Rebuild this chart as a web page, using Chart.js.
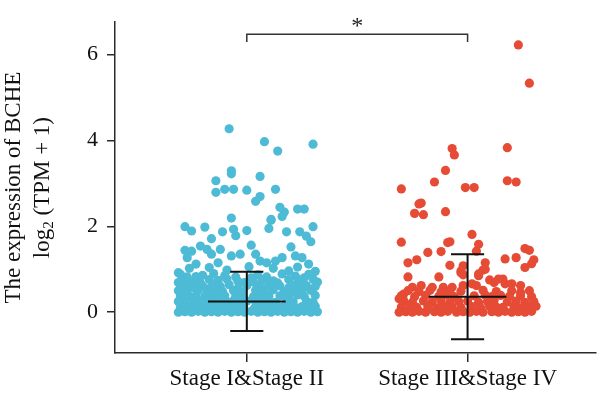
<!DOCTYPE html>
<html>
<head>
<meta charset="utf-8">
<script src="https://cdn.jsdelivr.net/npm/chart.js@4.4.0/dist/chart.umd.min.js"></script>
<style>
    html, body { margin: 0; padding: 0; background: #fff; }
    canvas { display: block; }
</style>
</head>
<body>
<canvas id="bcheChart" width="600" height="397"></canvas>
<script>
// Chart data
const categories = ['Stage I&Stage II', 'Stage III&Stage IV'];
const groupColors = ['#4DBBD5', '#E64B35'];
const yTickValues = [0, 2, 4, 6];
const meanValues = [0.25, 0.36];
const sdValues = [0.69, 0.99];
const signifLabel = '*';

// [jitter offset, log2(TPM + 1)]
const stage12Points = [
    [-0.08, 4.27], [0.08, 3.97], [0.14, 3.75], [0.30, 3.91],
    [-0.07, 3.29], [-0.07, 3.22], [-0.14, 3.06], [0.06, 3.16],
    [-0.14, 2.79], [-0.10, 2.86], [-0.06, 2.86], [0.00, 2.84], [0.13, 2.86],
    [0.04, 2.58], [0.06, 2.69], [0.15, 2.44], [0.17, 2.33], [0.16, 2.23], [0.23, 2.40], [0.26, 2.40],
    [-0.07, 2.19], [0.11, 2.16],
    [-0.28, 1.99], [-0.25, 1.89], [-0.19, 1.98], [-0.16, 1.71], [-0.11, 1.87], [-0.06, 1.93], [-0.05, 1.78], [0.00, 1.90],
    [0.11, 2.14], [0.10, 1.95], [0.18, 1.87], [0.24, 1.87], [0.27, 1.77], [0.29, 1.64], [0.30, 1.99],
    [0.02, 1.56], [0.20, 1.52],
    [-0.28, 1.44], [-0.25, 1.42], [-0.27, 1.27],
    [-0.21, 1.54], [-0.18, 1.46], [-0.16, 1.35], [-0.12, 1.46],
    [-0.07, 1.31], [-0.03, 1.35], [0.04, 1.35], [0.06, 1.19], [0.09, 1.15],
    [0.13, 1.19], [0.16, 1.27], [0.22, 1.31], [0.25, 1.27], [0.28, 1.12],
    [-0.23, 1.12], [-0.17, 1.04], [-0.13, 1.15], [0.19, 0.96], [-0.29, 0.77],
    [-0.26, 1.02], [-0.09, 0.98], [0.01, 1.06], [0.12, 1.02], [0.23, 1.05], [0.31, 0.95], [-0.31, 0.92],
    // dense part near zero
    [-0.30, 0.88], [-0.20, 0.86], [-0.15, 0.90], [-0.10, 0.85], [0.05, 0.87], [0.16, 0.89], [0.22, 0.84], [0.28, 0.88],
    [-0.27, 0.82], [-0.23, 0.83], [0.02, 0.80], [0.09, 0.82], [0.26, 0.80], [-0.05, 0.82],
    [-0.29, 0.75], [-0.24, 0.73], [-0.17, 0.76], [-0.13, 0.74], [-0.09, 0.77], [-0.04, 0.72], [0.07, 0.75], [0.12, 0.73], [0.19, 0.76], [0.24, 0.74], [0.30, 0.77],
    [-0.31, 0.69], [-0.21, 0.68], [-0.01, 0.69], [0.03, 0.70], [0.14, 0.68], [0.32, 0.70],
    [-0.30, 0.62], [-0.26, 0.64], [-0.20, 0.61], [-0.15, 0.63], [-0.12, 0.60], [-0.08, 0.64], [0.00, 0.62], [0.05, 0.60], [0.10, 0.63], [0.15, 0.61], [0.22, 0.64], [0.27, 0.62], [0.31, 0.60],
    [-0.28, 0.56], [-0.24, 0.57], [-0.17, 0.55], [-0.04, 0.56], [0.07, 0.55], [0.19, 0.57], [0.24, 0.55],
    [-0.31, 0.50], [-0.27, 0.48], [-0.22, 0.51], [-0.18, 0.49], [-0.14, 0.52], [-0.11, 0.48], [-0.06, 0.50], [-0.02, 0.47], [0.04, 0.51], [0.08, 0.49], [0.12, 0.52], [0.17, 0.48], [0.21, 0.50], [0.25, 0.47], [0.29, 0.51],
    [-0.30, 0.38], [-0.26, 0.36], [-0.23, 0.39], [-0.19, 0.37], [-0.16, 0.40], [-0.13, 0.36], [-0.10, 0.38], [-0.05, 0.37], [-0.02, 0.40], [0.03, 0.36], [0.06, 0.39], [0.10, 0.37], [0.15, 0.38], [0.19, 0.36], [0.23, 0.40], [0.26, 0.37], [0.31, 0.39],
    [-0.31, 0.25], [-0.28, 0.27], [-0.24, 0.24], [-0.21, 0.26], [-0.18, 0.23], [-0.15, 0.27], [-0.12, 0.25], [-0.09, 0.24], [-0.06, 0.27], [-0.03, 0.23], [0.00, 0.26], [0.04, 0.24], [0.07, 0.27], [0.10, 0.25], [0.13, 0.23], [0.18, 0.26], [0.21, 0.24], [0.27, 0.26], [0.30, 0.23],
    [-0.30, 0.12], [-0.27, 0.14], [-0.235, 0.11], [-0.20, 0.13], [-0.17, 0.10], [-0.14, 0.15], [-0.11, 0.12], [-0.08, 0.11], [-0.045, 0.14], [-0.015, 0.12], [0.035, 0.10], [0.065, 0.13], [0.095, 0.15], [0.125, 0.11], [0.16, 0.12], [0.19, 0.14], [0.22, 0.10], [0.25, 0.13], [0.28, 0.12], [0.31, 0.14],
    [-0.31, 0.00], [-0.28, 0.01], [-0.25, 0.00], [-0.22, 0.02], [-0.19, 0.00], [-0.16, 0.01], [-0.13, 0.00], [-0.10, 0.02], [-0.07, 0.00], [-0.04, 0.01], [-0.01, 0.00],
    [0.02, 0.02], [0.05, 0.00], [0.08, 0.01], [0.11, 0.00], [0.14, 0.02], [0.17, 0.00], [0.20, 0.01], [0.23, 0.00], [0.26, 0.02], [0.29, 0.00], [0.32, 0.01]
];

const stage34Points = [
    [0.23, 6.22], [0.28, 5.33],
    [-0.07, 3.81], [-0.06, 3.66], [0.18, 3.83], [-0.10, 3.30], [-0.15, 3.03], [-0.30, 2.87],
    [-0.01, 2.90], [0.03, 2.90], [0.18, 3.06], [0.22, 3.03],
    [-0.21, 2.54], [-0.22, 2.52], [-0.24, 2.30], [-0.20, 2.27], [-0.10, 2.34],
    [0.02, 1.81], [-0.30, 1.63], [-0.09, 1.62], [-0.08, 1.64], [0.05, 1.58], [0.04, 1.42],
    [-0.18, 1.39], [-0.12, 1.41], [-0.27, 1.15], [-0.23, 1.22],
    [0.26, 1.48], [0.28, 1.44], [0.17, 1.24], [0.22, 1.27], [0.30, 1.22], [0.29, 1.13], [0.26, 1.04],
    [-0.08, 1.09], [-0.02, 1.08], [0.08, 1.15], [0.07, 0.98], [-0.03, 0.92], [0.08, 1.00], [0.05, 0.85],
    [-0.27, 0.82], [-0.13, 0.82], [0.05, 0.89],
    [-0.21, 0.62], [-0.25, 0.58], [0.12, 0.69], [0.16, 0.77], [0.17, 0.66], [0.24, 0.62], [0.28, 0.50],
    [-0.02, 0.62], [0.10, 0.75], [0.14, 0.77], [-0.16, 0.58], [-0.11, 0.58], [-0.07, 0.58], [-0.29, 0.42],
    [-0.03, 0.96], [-0.02, 0.87], [0.02, 0.66], [0.04, 0.62], [0.20, 0.66], [-0.29, 0.27], [-0.31, 0.31],
    // dense part near zero
    [-0.27, 0.50], [-0.22, 0.48], [-0.17, 0.51], [-0.12, 0.47], [-0.08, 0.50], [-0.03, 0.49], [0.07, 0.51], [0.13, 0.48], [0.20, 0.50], [0.24, 0.46],
    [-0.30, 0.38], [-0.24, 0.36], [-0.19, 0.39], [-0.13, 0.37], [-0.10, 0.40], [-0.06, 0.36], [0.03, 0.38], [0.08, 0.40], [0.11, 0.36], [0.15, 0.39], [0.19, 0.37], [0.24, 0.38], [0.29, 0.36],
    [-0.29, 0.25], [-0.25, 0.23], [-0.20, 0.26], [-0.16, 0.24], [-0.12, 0.27], [-0.08, 0.23], [-0.04, 0.25], [0.00, 0.26], [0.05, 0.23], [0.09, 0.25], [0.12, 0.27], [0.18, 0.24], [0.22, 0.26], [0.26, 0.23], [0.30, 0.25],
    [-0.30, 0.12], [-0.26, 0.14], [-0.23, 0.11], [-0.18, 0.13], [-0.14, 0.10], [-0.11, 0.14], [-0.07, 0.12], [-0.03, 0.11], [0.02, 0.13], [0.06, 0.10], [0.10, 0.14], [0.13, 0.12], [0.16, 0.11], [0.21, 0.13], [0.24, 0.10], [0.28, 0.12], [0.31, 0.14],
    [-0.31, 0.00], [-0.28, 0.01], [-0.25, 0.00], [-0.22, 0.02], [-0.19, 0.00], [-0.15, 0.01], [-0.12, 0.00], [-0.09, 0.02], [-0.05, 0.00], [-0.02, 0.01],
    [0.01, 0.00], [0.04, 0.02], [0.07, 0.00], [0.11, 0.01], [0.14, 0.00], [0.17, 0.02], [0.20, 0.00], [0.23, 0.01], [0.26, 0.00], [0.29, 0.02]
];

const AXIS_COLOR = '#2b2b2b';
const SERIF = '"Liberation Serif", "DejaVu Serif", serif';

// error bars (mean +/- sd) on top of the points
const errorBarPlugin = {
    id: 'errorBars',
    afterDatasetsDraw(chart) {
        const { ctx, scales: { x, y } } = chart;
        ctx.save();
        ctx.strokeStyle = '#111';
        ctx.lineWidth = 2;
        meanValues.forEach((m, i) => {
            const cx = i + 1;
            const sd = sdValues[i];
            ctx.beginPath();
            // vertical
            ctx.moveTo(x.getPixelForValue(cx), y.getPixelForValue(m + sd));
            ctx.lineTo(x.getPixelForValue(cx), y.getPixelForValue(m - sd));
            // mean
            ctx.moveTo(x.getPixelForValue(cx - 0.176), y.getPixelForValue(m));
            ctx.lineTo(x.getPixelForValue(cx + 0.176), y.getPixelForValue(m));
            // caps
            ctx.moveTo(x.getPixelForValue(cx - 0.075), y.getPixelForValue(m + sd));
            ctx.lineTo(x.getPixelForValue(cx + 0.075), y.getPixelForValue(m + sd));
            ctx.moveTo(x.getPixelForValue(cx - 0.075), y.getPixelForValue(m - sd));
            ctx.lineTo(x.getPixelForValue(cx + 0.075), y.getPixelForValue(m - sd));
            ctx.stroke();
        });
        ctx.restore();
    }
};

// significance bracket + y axis title
const annotationPlugin = {
    id: 'annotations',
    afterDraw(chart) {
        const { ctx, chartArea, scales: { x, y } } = chart;
        ctx.save();
        const x1 = x.getPixelForValue(1);
        const x2 = x.getPixelForValue(2);
        const yb = y.getPixelForValue(6.47);
        const yt = y.getPixelForValue(6.29);
        ctx.strokeStyle = '#333';
        ctx.lineWidth = 1.5;
        ctx.beginPath();
        ctx.moveTo(x1, yt);
        ctx.lineTo(x1, yb);
        ctx.lineTo(x2, yb);
        ctx.lineTo(x2, yt);
        ctx.stroke();

        ctx.fillStyle = '#222';
        ctx.font = '24px ' + SERIF;
        ctx.textAlign = 'center';
        ctx.textBaseline = 'alphabetic';
        ctx.fillText(signifLabel, (x1 + x2) / 2, yb - 1);

        // rotated axis title
        const cy = (chartArea.top + chartArea.bottom) / 2;
        ctx.translate(0, cy);
        ctx.rotate(-Math.PI / 2);
        ctx.fillStyle = '#111';
        ctx.textBaseline = 'middle';
        ctx.font = '23px ' + SERIF;
        ctx.fillText('The expression of BCHE', 0, 14);

        const main1 = 'log';
        const sub = '2';
        const rest = ' (TPM + 1)';
        ctx.font = '23px ' + SERIF;
        const w1 = ctx.measureText(main1).width;
        const w3 = ctx.measureText(rest).width;
        ctx.font = '15px ' + SERIF;
        const w2 = ctx.measureText(sub).width;
        const total = w1 + w2 + w3;
        let sx = -total / 2;
        ctx.textAlign = 'left';
        ctx.font = '23px ' + SERIF;
        ctx.fillText(main1, sx, 43);
        sx += w1;
        ctx.font = '15px ' + SERIF;
        ctx.fillText(sub, sx, 49);
        sx += w2;
        ctx.font = '23px ' + SERIF;
        ctx.fillText(rest, sx, 43);
        ctx.restore();
    }
};

function toPoints(arr, center) {
    return arr.map(p => ({ x: center + p[0], y: p[1] }));
}

new Chart(document.getElementById('bcheChart'), {
    type: 'scatter',
    data: {
        datasets: [
            {
                label: categories[0],
                data: toPoints(stage12Points, 1),
                backgroundColor: groupColors[0],
                borderWidth: 0,
                pointRadius: 4.6
            },
            {
                label: categories[1],
                data: toPoints(stage34Points, 2),
                backgroundColor: groupColors[1],
                borderWidth: 0,
                pointRadius: 4.6
            }
        ]
    },
    options: {
        responsive: false,
        animation: false,
        devicePixelRatio: 1,
        layout: { padding: { top: 19, right: 0, left: 0, bottom: 0 } },
        plugins: {
            legend: { display: false },
            tooltip: { enabled: false }
        },
        scales: {
            x: {
                type: 'linear',
                min: 0.403,
                max: 2.579,
                afterBuildTicks: scale => { scale.ticks = [{ value: 1 }, { value: 2 }]; },
                afterFit: scale => { scale.height = 44; },
                grid: { drawOnChartArea: false, drawTicks: true, tickLength: 9, color: AXIS_COLOR, lineWidth: 1.5 },
                border: { display: true, color: AXIS_COLOR, width: 1.5 },
                ticks: {
                    padding: 3,
                    color: '#111',
                    font: { family: SERIF, size: 23 },
                    callback: v => categories[v - 1]
                }
            },
            y: {
                type: 'linear',
                min: -0.95,
                max: 6.75,
                afterBuildTicks: scale => { scale.ticks = yTickValues.map(v => ({ value: v })); },
                afterFit: scale => { scale.width = 115; },
                grid: { drawOnChartArea: false, drawTicks: true, tickLength: 8, color: AXIS_COLOR, lineWidth: 1.5 },
                border: { display: true, color: AXIS_COLOR, width: 1.5 },
                ticks: {
                    padding: 9,
                    color: '#111',
                    font: { family: SERIF, size: 22 }
                }
            }
        }
    },
    plugins: [errorBarPlugin, annotationPlugin]
});
</script>
</body>
</html>
